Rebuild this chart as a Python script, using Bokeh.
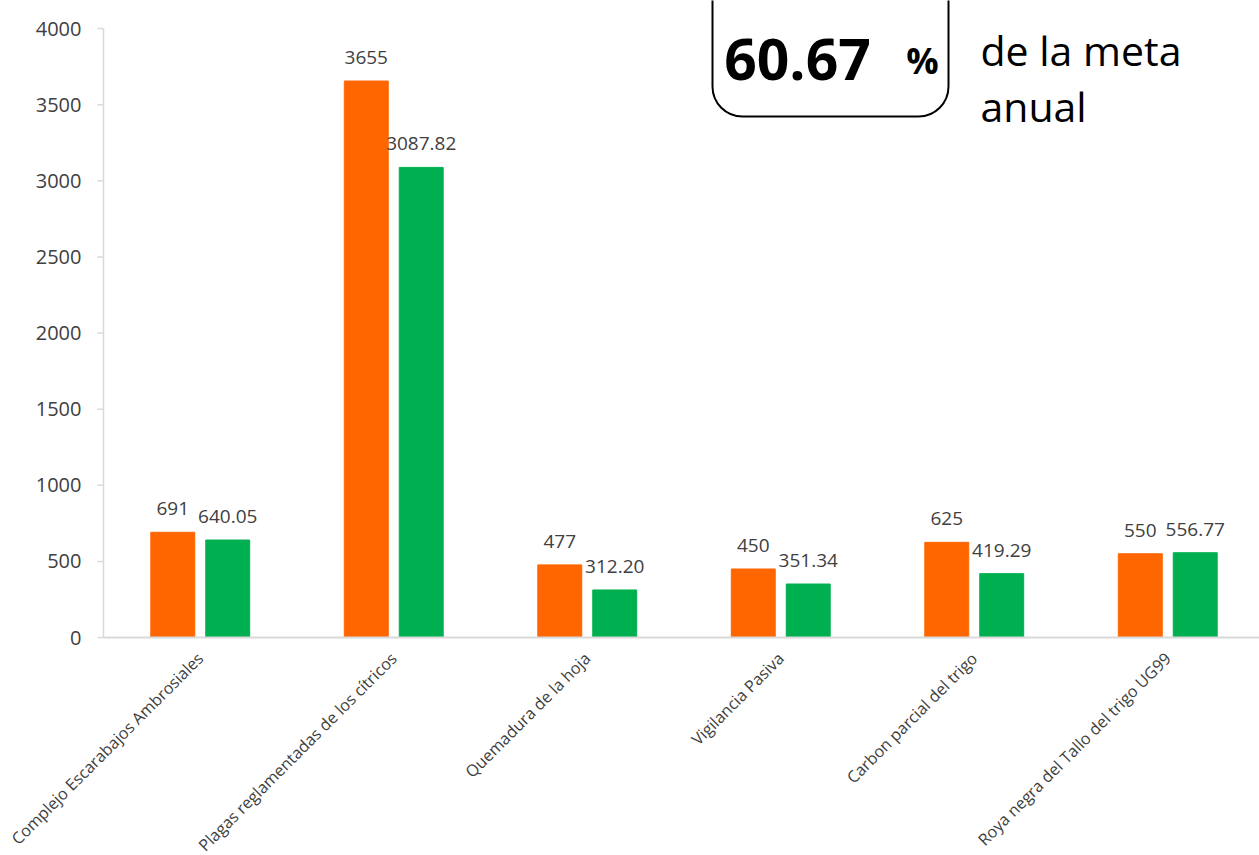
import math
from bokeh.plotting import figure
from bokeh.models import Range1d, ColumnDataSource, LabelSet, Label, BoxAnnotation
from bokeh.core.properties import value
from bokeh.embed import file_html
from bokeh.resources import INLINE

# ---- data ----
categories = [
    "Complejo Escarabajos Ambrosiales",
    "Plagas reglamentadas de los cítricos",
    "Quemadura de la hoja",
    "Vigilancia Pasiva",
    "Carbon parcial del trigo",
    "Roya negra del Tallo del trigo UG99",
]
meta = [691, 3655, 477, 450, 625, 550]
avance = [640.05, 3087.82, 312.20, 351.34, 419.29, 556.77]
y_ticks = [0, 500, 1000, 1500, 2000, 2500, 3000, 3500, 4000]
porcentaje = "60.67"
porcentaje_unidad = "%"
texto_meta = ["de la meta", "anual"]

# ---- layout ----
W, H = 1259, 855
LEFT = 103                      # x pixel of the value axis
PX_PER_CAT = 193.5
Y_TOP_PX, Y_ZERO_PX = 28, 637   # pixel rows of 4000 and 0
x_start = -LEFT / PX_PER_CAT
x_end = (W - LEFT) / PX_PER_CAT
ppu = (Y_ZERO_PX - Y_TOP_PX) / 4000.0  # pixels per unit
y_start = -(H - Y_ZERO_PX) / ppu
y_end = 4000 + Y_TOP_PX / ppu

# helpers converting reference page pixels to data coords (for decorations)
def px_x(px):
    return (px - LEFT) / PX_PER_CAT

def px_y(py):
    return (Y_ZERO_PX - py) / ppu

FONT_NAME = "Open Sans"
FONT = value(FONT_NAME)
TXT = "#404040"
AXIS = "#d9d9d9"

p = figure(
    width=W, height=H,
    x_range=Range1d(x_start, x_end), y_range=Range1d(y_start, y_end),
    output_backend="svg", toolbar_location=None,
    x_axis_location=None, y_axis_location=None,
    min_border_left=0, min_border_right=0, min_border_top=0, min_border_bottom=0,
)
p.outline_line_color = None
p.grid.visible = False
p.background_fill_color = "white"
p.border_fill_color = "white"

xs = [i + 0.5 for i in range(len(categories))]
off = 0.142
bw = 0.227
src = ColumnDataSource(dict(
    x1=[x - off for x in xs],
    x2=[x + off for x in xs],
    meta=meta,
    avance=avance,
    lab1=[str(v) for v in meta],
    lab2=[f"{v:.2f}" for v in avance],
))
p.vbar(x="x1", top="meta", bottom=0, width=bw, fill_color="#FF6600", line_color="#FF6600", source=src)
p.vbar(x="x2", top="avance", bottom=0, width=bw, fill_color="#00B050", line_color="#00B050", source=src)

# value axis: line, ticks and labels drawn through the plot's scales
tick_src = ColumnDataSource(dict(
    x=[0] * len(y_ticks), y=y_ticks, label=[str(t) for t in y_ticks],
))
p.segment(x0=[0], y0=[min(y_ticks)], x1=[0], y1=[max(y_ticks)], line_color=AXIS, line_width=1.5)
p.ray(x="x", y="y", length=6, length_units="screen", angle=math.pi, source=tick_src,
      line_color=AXIS, line_width=1.5)
p.add_layout(LabelSet(
    x="x", y="y", text="label", source=tick_src, x_offset=-22, y_offset=0,
    text_align="right", text_baseline="middle",
    text_font=FONT, text_font_size="20px", text_color=TXT,
))

# category axis line at zero
p.segment(x0=[0], y0=[0], x1=[x_end], y1=[0], line_color=AXIS, line_width=2)

# data labels
for xf, yf, tf in (("x1", "meta", "lab1"), ("x2", "avance", "lab2")):
    p.add_layout(LabelSet(
        x=xf, y=yf, text=tf, source=src, text_align="center", text_baseline="alphabetic",
        y_offset=17, text_font=FONT, text_font_size="19px", text_color=TXT,
    ))

# category labels (rotated)
cat_src = ColumnDataSource(dict(x=xs, y=[0] * len(xs), name=categories))
p.add_layout(LabelSet(
    x="x", y="y", text="name", source=cat_src, angle=math.pi / 4,
    text_align="right", text_baseline="middle", y_offset=-18, x_offset=0,
    text_font=FONT, text_font_size="16.2px", text_color=TXT,
))

# annotation box
p.add_layout(BoxAnnotation(
    left=px_x(712), right=px_x(948), bottom=px_y(116), top=y_end + 500,
    fill_color=None, fill_alpha=0, line_color="black", line_alpha=1.0, line_width=2,
    border_radius=30,
))
p.add_layout(Label(
    x=px_x(797), y=px_y(59), text=porcentaje, text_align="center", text_baseline="alphabetic",
    text_font=FONT_NAME, text_font_style="bold", text_font_size="57px", text_color="black",
))
p.add_layout(Label(
    x=px_x(922), y=px_y(60), text=porcentaje_unidad, text_align="center", text_baseline="alphabetic",
    text_font=FONT_NAME, text_font_style="bold", text_font_size="36px", text_color="black",
))
p.add_layout(Label(
    x=px_x(980), y=px_y(49), text=texto_meta[0], text_align="left", text_baseline="alphabetic",
    text_font=FONT_NAME, text_font_size="41px", text_color="black",
))
p.add_layout(Label(
    x=px_x(980), y=px_y(105), text=texto_meta[1], text_align="left", text_baseline="alphabetic",
    text_font=FONT_NAME, text_font_size="41px", text_color="black",
))

open("out.html", "w").write(file_html(p, INLINE))
